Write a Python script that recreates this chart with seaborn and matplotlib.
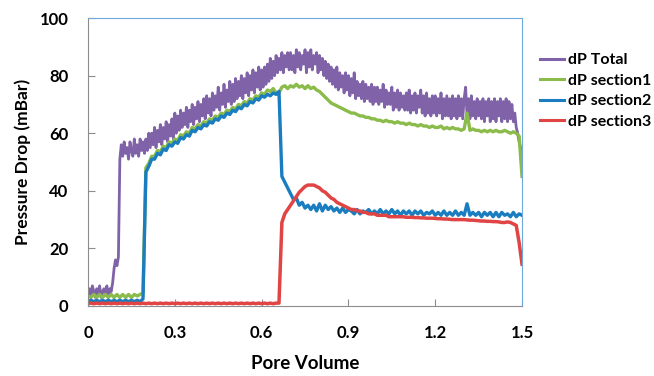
import numpy as np
import pandas as pd
import seaborn as sns
import matplotlib.pyplot as plt

# pore volume sampling: 0.005 steps for the noisy total, 0.01 steps for the sections
pv_fine = np.round(np.arange(0, 301) / 200, 3)
pv = np.round(np.arange(0, 151) / 100, 2)

dp_total = [4, 6, 3, 7, 5, 3, 6, 4, 7, 3, 5, 6, 4, 7, 3, 6, 5, 8, 13, 16,
            14, 17, 51, 56, 52, 57, 53, 55, 51, 57, 54, 52, 58, 53, 56, 52, 58, 54, 57, 53,
            58, 54, 60, 55, 60, 56, 62, 55, 61, 57, 63, 56, 62, 58, 64, 57, 63, 59, 65, 58,
            67, 60, 66, 61, 68, 62, 67, 63, 69, 62, 68, 64, 70, 63, 69, 65, 71, 64, 70, 66,
            72, 65, 73, 67, 72, 66, 74, 68, 73, 69, 76, 68, 74, 70, 77, 69, 75, 71, 78, 70,
            77, 71, 79, 72, 78, 73, 80, 72, 79, 74, 81, 73, 80, 75, 82, 74, 81, 76, 83, 75,
            82, 76, 83, 77, 84, 78, 86, 79, 85, 80, 87, 81, 86, 82, 88, 81, 87, 83, 88, 82,
            88, 82, 87, 81, 89, 83, 88, 82, 87, 84, 89, 81, 88, 83, 89, 82, 87, 84, 88, 81,
            87, 82, 86, 80, 85, 79, 84, 78, 83, 77, 82, 76, 83, 75, 81, 76, 80, 74, 81, 75,
            80, 73, 79, 74, 81, 72, 78, 73, 77, 72, 78, 71, 77, 72, 76, 71, 77, 70, 76, 71,
            76, 70, 75, 71, 77, 69, 75, 70, 74, 70, 76, 68, 74, 69, 75, 68, 74, 69, 73, 68,
            74, 68, 75, 67, 73, 68, 74, 67, 73, 69, 75, 67, 73, 66, 74, 67, 72, 66, 73, 67,
            73, 66, 72, 67, 74, 65, 72, 66, 73, 66, 72, 65, 73, 66, 72, 65, 73, 66, 72, 65,
            72, 76, 66, 72, 65, 73, 66, 71, 65, 72, 66, 71, 65, 72, 64, 71, 66, 72, 64, 71,
            65, 72, 64, 71, 66, 72, 64, 71, 65, 72, 64, 71, 65, 70, 64, 67, 62, 60, 57, 55,
            52]

dp_section1 = [3.5, 3, 4, 3, 4, 3, 4, 3, 4, 3,
               4, 3, 4, 3, 4, 3, 4, 3.5, 4, 4.5,
               48, 49.5, 52, 52, 54, 53.5, 55.5, 55, 57, 56.5,
               58, 57.5, 59.5, 59, 60.5, 60, 62, 61.5, 63, 62.5,
               64, 63.5, 65, 64.5, 66, 65.5, 67, 66.5, 68, 67.5,
               69, 68.5, 70, 69.5, 71, 70.5, 72, 71.5, 73, 72.5,
               74, 73.5, 75, 74.5, 75.5, 74, 74, 76, 76.5, 75.5,
               76.5, 76, 77, 76, 76.5, 75.5, 76.5, 75.5, 76, 75,
               74.5, 73.5, 72.5, 71.5, 70.5, 70, 69.5, 69, 68.5, 68,
               67.5, 67, 67, 66.5, 66, 66, 65.5, 65.5, 65, 65,
               64.5, 64.5, 64, 64.5, 64, 64, 63.5, 64, 63.5, 63.5,
               63, 63.5, 63, 63, 62.5, 63, 62.5, 62.5, 62, 62.5,
               62, 62, 62.5, 61.5, 62, 61.5, 62, 61.5, 61.5, 61,
               61.5, 67, 61, 61.5, 61, 61, 60.5, 61, 60.5, 61,
               60.5, 61, 60.5, 60.5, 61, 60.5, 60, 60.5, 60, 59,
               45]

dp_section2 = [1.5, 2, 1.5, 2, 1.5, 2, 1.5, 2, 1.5, 2,
               1.5, 2, 1.5, 2, 1.5, 2, 1.5, 2, 1.5, 2.5,
               46.5, 48.5, 51, 51, 53, 52.5, 54.5, 54, 56, 55.5,
               57, 56.5, 58.5, 58, 59.5, 59, 61, 60.5, 62, 61.5,
               63, 62.5, 64, 63.5, 65, 64.5, 66, 65.5, 67, 66.5,
               68, 67.5, 69, 68.5, 70, 69.5, 71, 70.5, 72, 71.5,
               73, 72.5, 73.5, 73, 74, 73.5, 74.5, 45, 43, 41,
               39, 37, 37.5, 35, 36, 34, 35, 33.5, 35, 33,
               35.5, 33, 35, 33.5, 34.5, 33, 34, 32.5, 34, 32.5,
               33.5, 33, 32, 33.5, 32, 33, 32.5, 33.5, 32, 33,
               32, 33.5, 32, 33, 32, 33.5, 32, 33, 31.5, 33,
               32, 33, 31.5, 33, 32, 33, 31.5, 32.5, 32, 33,
               31.5, 32.5, 31.5, 33, 31.5, 32.5, 31.5, 33, 31.5, 32.5,
               31.5, 35.5, 31.5, 32.5, 31.5, 32.5, 31, 32.5, 31.5, 32.5,
               31, 32.5, 31, 32.5, 31.5, 32, 31, 32.5, 31, 32,
               31.5]

dp_section3 = [0.8, 1, 0.8, 1, 0.8, 1, 0.8, 1, 0.8, 1,
               0.8, 1, 0.8, 1, 0.8, 1, 0.8, 1, 0.8, 1,
               0.8, 1, 0.8, 1, 0.8, 1, 0.8, 1, 0.8, 1,
               0.8, 1, 0.8, 1, 0.8, 1, 0.8, 1, 0.8, 1,
               0.8, 1, 0.8, 1, 0.8, 1, 0.8, 1, 0.8, 1,
               0.8, 1, 0.8, 1, 0.8, 1, 0.8, 1, 0.8, 1,
               0.8, 1, 0.8, 1, 0.8, 1, 1, 29, 32, 33.5,
               35, 36.5, 38, 39.5, 40.5, 41.5, 42, 42, 42, 41.5,
               41, 40, 39.5, 38.5, 37.5, 37, 36, 35.5, 35, 34.5,
               34, 33.5, 33.5, 33, 33, 32.5, 32.5, 32, 32, 32,
               31.5, 31.5, 31.5, 31.5, 31, 31, 31, 31, 31, 31,
               30.8, 30.8, 30.8, 30.7, 30.7, 30.6, 30.6, 30.5, 30.5, 30.5,
               30.4, 30.3, 30.3, 30.2, 30.2, 30.1, 30, 30, 30, 30,
               30, 29.9, 29.8, 29.8, 29.7, 29.6, 29.5, 29.5, 29.4, 29.4,
               29.3, 29.3, 29.2, 29, 29, 29.2, 29, 28.5, 28, 22,
               14.5]

series_names = ["dP Total", "dP section1", "dP section2", "dP section3"]
colors = ["#8062A8", "#8BBB4A", "#1A7DC0", "#E04444"]
widths = [2.0, 2.4, 2.4, 2.5]

df = pd.concat([
    pd.DataFrame({"pv": x, "dp": vals, "series": name})
    for name, x, vals in zip(series_names, [pv_fine, pv, pv, pv],
                             [dp_total, dp_section1, dp_section2, dp_section3])
])

plt.rcParams['font.family'] = ['Lato', 'DejaVu Sans']
fig = plt.figure(figsize=(6.54, 3.76), dpi=100)
ax = fig.add_axes([0.1346, 0.1862, 0.6636, 0.7658])

sns.lineplot(data=df, x="pv", y="dp", hue="series", hue_order=series_names,
             palette=colors, estimator=None, sort=False, ax=ax)
for line, lw in zip(ax.get_lines(), widths):
    line.set_linewidth(lw)

ax.set_xlim(0, 1.5)
ax.set_ylim(0, 100)
ax.set_xticks([0, 0.3, 0.6, 0.9, 1.2, 1.5])
ax.set_xticklabels(["0", "0.3", "0.6", "0.9", "1.2", "1.5"])
ax.set_yticks([0, 20, 40, 60, 80, 100])
ax.tick_params(direction="in", length=5, color="#8c8c8c", labelsize=12, pad=14)
for lab in ax.get_xticklabels() + ax.get_yticklabels():
    lab.set_fontweight("bold")

for side in ["left", "bottom"]:
    ax.spines[side].set_color("#8c8c8c")
for side in ["top", "right"]:
    ax.spines[side].set_color("#6FA8DC")

ax.set_xlabel("Pore Volume", fontsize=13.5, fontweight="bold", labelpad=10)
ax.set_ylabel("Pressure Drop (mBar)", fontsize=12.5, fontweight="bold", labelpad=6)

leg = ax.legend(loc="upper left", bbox_to_anchor=(1.024, 0.906), frameon=False,
                prop={"weight": "bold", "size": 11.5}, handlelength=1.5,
                handletextpad=0.2, labelspacing=0.4, borderpad=0)
for h in leg.get_lines():
    h.set_linewidth(2.2)

fig.savefig("out.png", dpi=100)
